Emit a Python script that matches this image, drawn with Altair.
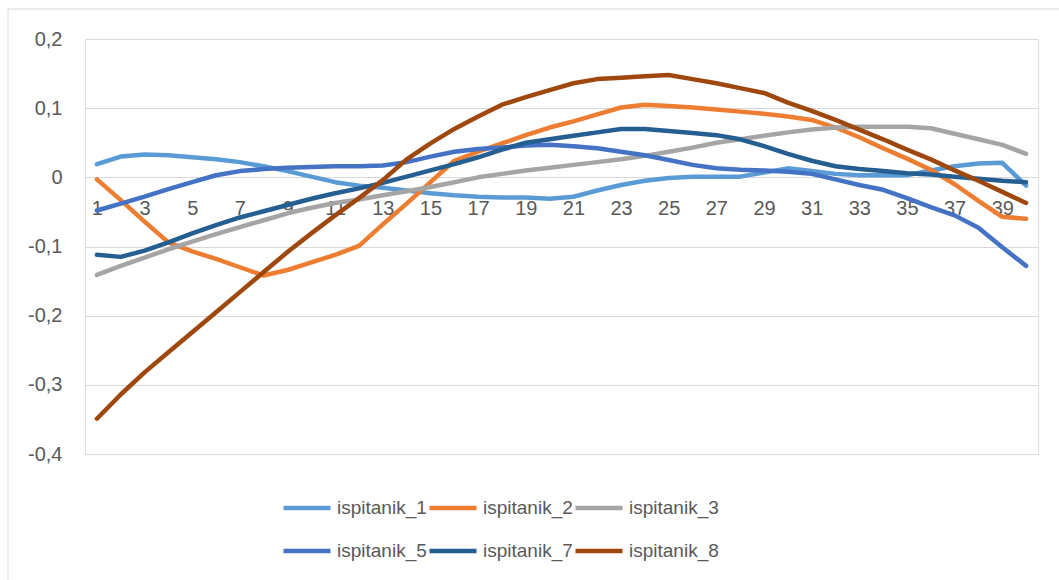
import altair as alt
import pandas as pd

# Measurement points 1..40 and the six subjects
points = list(range(1, 41))
series_names = ["ispitanik_1", "ispitanik_2", "ispitanik_3",
                "ispitanik_5", "ispitanik_7", "ispitanik_8"]
series_colors = ["#5B9BD5", "#ED7D31", "#A5A5A5", "#4472C4", "#255E91", "#9E480E"]

isp_1 = [0.019, 0.030, 0.033, 0.032, 0.029, 0.026, 0.022, 0.016, 0.009, 0.001,
         -0.007, -0.012, -0.015, -0.019, -0.023, -0.026, -0.028, -0.029, -0.029, -0.031,
         -0.028, -0.019, -0.011, -0.005, -0.001, 0.001, 0.001, 0.001, 0.007, 0.013,
         0.009, 0.005, 0.003, 0.003, 0.003, 0.010, 0.016, 0.020, 0.021, -0.012]
isp_2 = [-0.003, -0.033, -0.064, -0.094, -0.107, -0.118, -0.130, -0.142, -0.134, -0.123,
         -0.112, -0.099, -0.068, -0.038, -0.007, 0.024, 0.037, 0.049, 0.061, 0.072,
         0.081, 0.091, 0.101, 0.105, 0.103, 0.101, 0.098, 0.095, 0.092, 0.088,
         0.083, 0.072, 0.058, 0.042, 0.027, 0.011, -0.010, -0.034, -0.057, -0.060]
isp_3 = [-0.141, -0.128, -0.116, -0.104, -0.093, -0.082, -0.072, -0.062, -0.052, -0.044,
         -0.037, -0.032, -0.026, -0.020, -0.014, -0.007, 0.000, 0.005, 0.010, 0.014,
         0.018, 0.022, 0.026, 0.031, 0.037, 0.043, 0.050, 0.055, 0.060, 0.065,
         0.069, 0.072, 0.073, 0.073, 0.073, 0.071, 0.063, 0.055, 0.047, 0.034]
isp_5 = [-0.048, -0.038, -0.028, -0.017, -0.007, 0.003, 0.009, 0.012, 0.014, 0.015,
         0.016, 0.016, 0.017, 0.022, 0.030, 0.037, 0.041, 0.043, 0.046, 0.047,
         0.045, 0.042, 0.037, 0.032, 0.025, 0.018, 0.013, 0.011, 0.010, 0.008,
         0.005, -0.003, -0.011, -0.018, -0.030, -0.043, -0.055, -0.073, -0.101, -0.128]
isp_7 = [-0.112, -0.115, -0.106, -0.094, -0.081, -0.069, -0.058, -0.049, -0.040, -0.031,
         -0.023, -0.016, -0.008, 0.001, 0.010, 0.019, 0.029, 0.040, 0.050, 0.055,
         0.060, 0.065, 0.070, 0.070, 0.067, 0.064, 0.061, 0.055, 0.045, 0.034,
         0.024, 0.016, 0.012, 0.009, 0.006, 0.004, 0.001, -0.002, -0.005, -0.007]
isp_8 = [-0.349, -0.314, -0.282, -0.253, -0.224, -0.195, -0.166, -0.137, -0.108, -0.081,
         -0.055, -0.030, -0.004, 0.026, 0.049, 0.070, 0.088, 0.105, 0.116, 0.126,
         0.136, 0.142, 0.144, 0.146, 0.148, 0.142, 0.136, 0.129, 0.122, 0.108,
         0.096, 0.083, 0.069, 0.055, 0.040, 0.026, 0.010, -0.005, -0.021, -0.037]

x_labels = list(range(1, 41, 2))
y_ticks = [-0.4, -0.3, -0.2, -0.1, 0.0, 0.1, 0.2]

rows = []
for name, vals in zip(series_names, [isp_1, isp_2, isp_3, isp_5, isp_7, isp_8]):
    for p, v in zip(points, vals):
        rows.append({"tocka": p, "serija": name, "vrijednost": v})
df = pd.DataFrame(rows)

FONT = "Liberation Sans"
TEXT = "#595959"
GRID = "#D9D9D9"
W, H = 953, 415
Y_MIN, Y_MAX = -0.4, 0.2
# category axis crosses the value axis at zero
zero_offset = -H * (0 - Y_MIN) / (Y_MAX - Y_MIN)

lines = alt.Chart(df).mark_line(
    strokeWidth=4.5, strokeCap="round", strokeJoin="round"
).encode(
    x=alt.X("tocka:Q",
            scale=alt.Scale(domain=[0.5, 40.5], nice=False, zero=False),
            axis=alt.Axis(values=x_labels, title=None, grid=False, domain=False,
                          ticks=False, tickSize=0, offset=zero_offset,
                          labelPadding=21, labelFontSize=20, labelFont=FONT,
                          labelColor=TEXT, labelFlush=False, labelOverlap=False)),
    y=alt.Y("vrijednost:Q",
            scale=alt.Scale(domain=[Y_MIN, Y_MAX], nice=False, zero=False),
            axis=alt.Axis(values=y_ticks, title=None, domain=False, ticks=False,
                          grid=True, gridColor=GRID, gridWidth=1,
                          labelPadding=23, labelFontSize=20, labelFont=FONT,
                          labelColor=TEXT, labelFlush=False,
                          labelExpr="abs(datum.value) < 1e-9 ? '0' : "
                                    "(datum.value < 0 ? '-' : '') + "
                                    "replace(format(abs(datum.value), '.1f'), '.', ',')")),
    color=alt.Color("serija:N",
                    scale=alt.Scale(domain=series_names, range=series_colors),
                    legend=alt.Legend(title=None, orient="none", legendX=196, legendY=443,
                                      direction="horizontal", columns=3,
                                      symbolType="stroke", symbolSize=2209,
                                      symbolStrokeWidth=4.5, labelFontSize=19,
                                      labelFont=FONT, labelColor=TEXT, labelOffset=4,
                                      columnPadding=-9, rowPadding=7, padding=0)),
)

frame = alt.Chart(pd.DataFrame({"k": [0]})).mark_rect(
    fillOpacity=0, stroke=GRID, strokeWidth=1
).encode(
    x=alt.value(-77), x2=alt.value(W + 25),
    y=alt.value(-30), y2=alt.value(H + 130),
)

chart = alt.layer(frame, lines).properties(
    width=W, height=H,
    autosize=alt.AutoSizeParams(type="none"),
    padding={"left": 85, "top": 39, "right": 21, "bottom": 126},
).configure_view(stroke=None).configure(background="white")

chart.save("out.html", embed_options={"renderer": "svg", "actions": False})
